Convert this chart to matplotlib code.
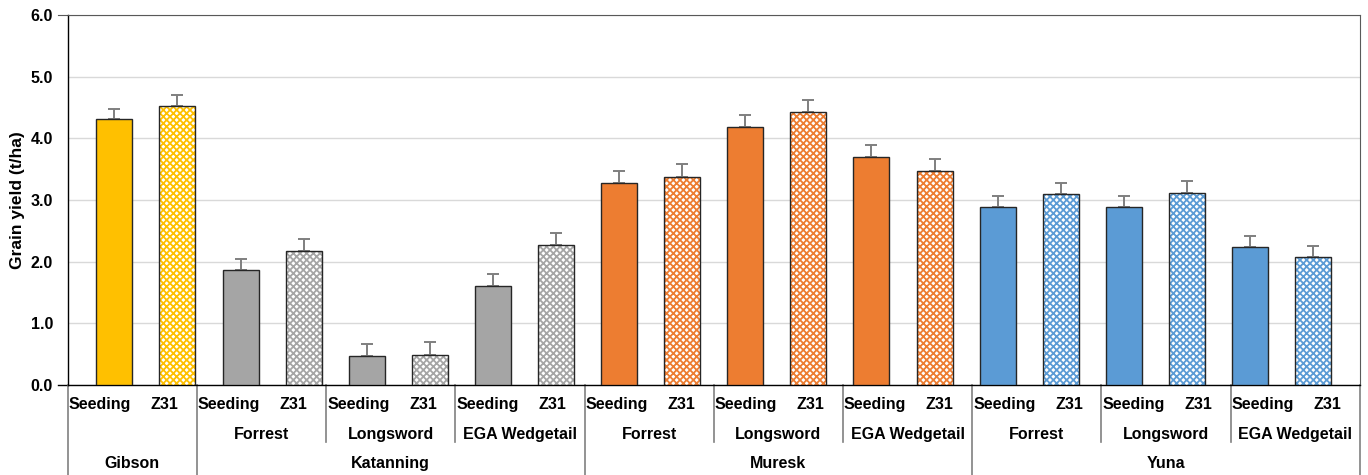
import matplotlib
matplotlib.use("Agg")
import matplotlib.pyplot as plt
import matplotlib.transforms as mtransforms
import numpy as np

# data
location = ["Gibson"] * 2 + ["Katanning"] * 6 + ["Muresk"] * 6 + ["Yuna"] * 6
variety = (["", ""]
           + ["Forrest", "Forrest", "Longsword", "Longsword", "EGA Wedgetail", "EGA Wedgetail"] * 3)
timing = ["Seeding", "Z31"] * 10
grain_yield = [4.31, 4.52,
               1.86, 2.17, 0.47, 0.49, 1.61, 2.27,
               3.28, 3.38, 4.19, 4.43, 3.69, 3.47,
               2.89, 3.09, 2.89, 3.12, 2.24, 2.08]
yield_err = [0.17, 0.18,
             0.19, 0.19, 0.20, 0.20, 0.19, 0.20,
             0.19, 0.20, 0.19, 0.19, 0.20, 0.20,
             0.17, 0.18, 0.17, 0.19, 0.18, 0.18]

LOCATION_COLORS = {
    "Gibson": "#FFC000",
    "Katanning": "#A5A5A5",
    "Muresk": "#ED7D31",
    "Yuna": "#5B9BD5",
}

plt.rcParams["font.family"] = ["Liberation Sans", "DejaVu Sans"]
plt.rcParams["font.weight"] = "bold"
plt.rcParams["hatch.linewidth"] = 1.3

fig = plt.figure(figsize=(13.68, 4.75), dpi=100)
ax = fig.add_axes([67.7 / 1368, 1 - 385 / 475, (1359.7 - 67.7) / 1368, 370 / 475])

n = len(grain_yield)
bar_step = 0.9766
bar_width = 0.557
x_bar = n / 2 + (np.arange(n) - (n - 1) / 2) * bar_step

for i in range(n):
    color = LOCATION_COLORS[location[i]]
    if timing[i] == "Seeding":
        ax.bar(x_bar[i], grain_yield[i], width=bar_width, color=color,
               edgecolor="#262626", linewidth=1.0, zorder=3)
    else:
        ax.bar(x_bar[i], grain_yield[i], width=bar_width, color="white",
               edgecolor=color, hatch="xxxxx", linewidth=0, zorder=3)
        ax.bar(x_bar[i], grain_yield[i], width=bar_width, fill=False,
               edgecolor="#262626", linewidth=1.0, zorder=4)

ax.errorbar(x_bar, grain_yield, yerr=[np.zeros(n), yield_err], fmt="none",
            ecolor="#7F7F7F", elinewidth=1.4, capsize=4.5, capthick=1.4, zorder=2)

ax.set_xlim(0, n)
ax.set_ylim(0, 6)
ax.set_yticks(np.arange(0, 6.01, 1.0))
ax.set_yticklabels([f"{v:.1f}" for v in np.arange(0, 6.01, 1.0)], fontsize=11.5, fontweight="bold")
ax.set_xticks([])
ax.tick_params(axis="y", length=0, pad=10.5)
ax.yaxis.grid(True, color="#D9D9D9", linewidth=1.0, zorder=0)
ax.set_axisbelow(True)
ax.set_ylabel("Grain yield (t/ha)", fontsize=12.5, fontweight="bold", labelpad=4)

for side in ["left", "bottom"]:
    ax.spines[side].set_color("black")
    ax.spines[side].set_linewidth(1.0)
for side in ["top", "right"]:
    ax.spines[side].set_color("#595959")
    ax.spines[side].set_linewidth(0.8)

trans = mtransforms.blended_transform_factory(ax.transData, ax.transAxes)

# short outward marks at the ends of the value axis
ax.plot([-0.15, 0], [0, 0], transform=trans, clip_on=False, color="black", linewidth=1.0)
ax.plot([-0.15, 0], [1, 1], transform=trans, clip_on=False, color="#595959", linewidth=0.8)

# level 1: timing labels
for i in range(n):
    ax.text(i + 0.5, -0.054, timing[i], transform=trans, ha="center", va="center",
            fontsize=11.5, fontweight="bold")

# level 2: variety labels, level 3: location labels
line_kw = dict(transform=trans, clip_on=False, color="#808080", linewidth=1.2)
start = 0
for i in range(1, n + 1):
    if i == n or location[i] != location[i - 1]:
        ax.text((start + i) / 2, -0.211, location[start], transform=trans,
                ha="center", va="center", fontsize=11.5, fontweight="bold")
        ax.plot([i, i], [0, -0.245], **line_kw)
        start = i
for i in range(0, n, 2):
    if variety[i]:
        ax.text(i + 1, -0.134, variety[i], transform=trans, ha="center", va="center",
                fontsize=11.5, fontweight="bold")
        if i > 0 and location[i - 1] == location[i]:
            ax.plot([i, i], [0, -0.154], **line_kw)
ax.plot([0, 0], [0, -0.245], **line_kw)

fig.savefig("out.png", dpi=100)
